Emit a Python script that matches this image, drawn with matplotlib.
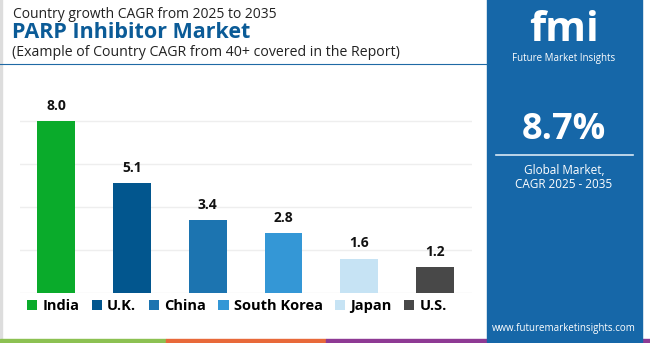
import matplotlib.pyplot as plt
from matplotlib.patches import Rectangle, Patch
from matplotlib.lines import Line2D

plt.rcParams['font.family'] = ['Open Sans', 'DejaVu Sans']

# Data
countries = ['India', 'U.K.', 'China', 'South Korea', 'Japan', 'U.S.']
cagr = [8.0, 5.1, 3.4, 2.8, 1.6, 1.2]
colors = ['#0aab2b', '#02568e', '#1c74b0', '#3497d6', '#c6e3f4', '#484848']
global_cagr = '8.7%'

W, H = 650, 343
fig = plt.figure(figsize=(6.5, 3.43), dpi=100)

# chart axes
ax = fig.add_axes([20 / W, 50 / H, 452 / W, 189 / H])
x = range(len(countries))
bars = ax.bar(x, cagr, width=0.5, color=colors, zorder=3)
ax.set_xlim(-0.48, 5.49)
ax.set_ylim(0, 8.8)
ax.set_yticks([0, 2, 4, 6, 8])
ax.yaxis.grid(True, color='#eeeeee', linewidth=1, zorder=0)
ax.tick_params(left=False, bottom=False, labelleft=False, labelbottom=False)
for s in ax.spines.values():
    s.set_visible(False)
for b, v in zip(bars, cagr):
    ax.annotate(f'{v:.1f}', (b.get_x() + b.get_width() / 2, v),
                xytext=(0, 6), textcoords='offset points',
                ha='center', va='bottom', fontsize=10, fontweight='bold',
                color='#111111')

# legend
handles = [Patch(facecolor=c, edgecolor='none') for c in colors]
leg = fig.legend(handles, countries, loc='center', ncol=6,
                 bbox_to_anchor=(237 / W, 1 - 306 / H), frameon=False,
                 handlelength=0.7, handleheight=0.7, handletextpad=0.35,
                 columnspacing=0.85, prop={'weight': 'bold', 'size': 10.5})

# header texts
fig.text(13 / W, 1 - 15 / H, 'Country growth CAGR from 2025 to 2035',
         fontsize=10, color='#222222', va='center')
fig.text(12 / W, 1 - 33 / H, 'PARP Inhibitor Market', fontsize=15.5,
         fontweight='bold', color='#0b5b97', va='center')
fig.text(12 / W, 1 - 52 / H,
         '(Example of Country CAGR from 40+ covered in the Report)',
         fontsize=10.2, color='#222222', va='center')
fig.add_artist(Line2D([0, 487 / W], [1 - 64 / H] * 2, color='#1f6aa5',
                      linewidth=0.8, transform=fig.transFigure))

# left border and bottom strip
fig.add_artist(Rectangle((0, 4 / H), 2 / W, 1, transform=fig.transFigure,
                         color='#dddddd'))
for x0, x1, c in [(0, 166, '#8cc152'), (166, 326, '#e8693a'), (326, 650, '#8e3a94')]:
    fig.add_artist(Rectangle((x0 / W, 0), (x1 - x0) / W, 4 / H,
                             transform=fig.transFigure, color=c))

# right panel
fig.add_artist(Rectangle((487 / W, 1 / H), 155 / W, 1, transform=fig.transFigure,
                         color='#1667a8'))
cx = 564 / W
fig.text(cx, 1 - 41 / H, 'fmi', fontsize=30, fontweight='bold', color='white',
         ha='center', va='baseline')
fig.text(cx, 1 - 58 / H, 'Future Market Insights', fontsize=7, color='white',
         ha='center', va='center')
fig.text(cx, 1 - 130 / H, global_cagr, fontsize=26, fontweight='bold',
         color='white', ha='center', va='center')
fig.add_artist(Line2D([496 / W, 633 / W], [1 - 155 / H] * 2, color='#d9e8f4',
                      linewidth=1.2, transform=fig.transFigure))
fig.text(cx, 1 - 170 / H, 'Global Market,', fontsize=8.5, color='white',
         ha='center', va='center')
fig.text(cx, 1 - 184 / H, 'CAGR 2025 - 2035', fontsize=8.5, color='white',
         ha='center', va='center')
fig.text(cx, 1 - 328 / H, 'www.futuremarketinsights.com', fontsize=7,
         color='white', ha='center', va='center')

fig.savefig('out.png', dpi=100)
